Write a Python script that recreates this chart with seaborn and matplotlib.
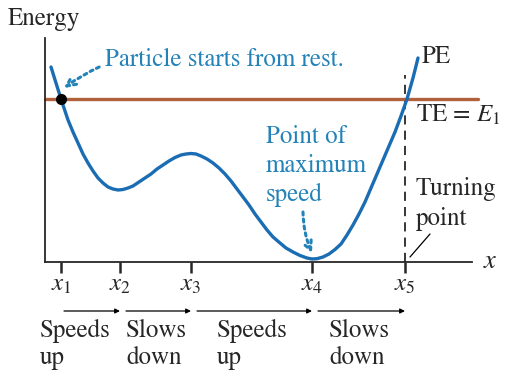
import numpy as np
import pandas as pd
import matplotlib.pyplot as plt
import seaborn as sns

sns.set_style("ticks")
plt.rcParams["font.family"] = ["STIXGeneral", "Liberation Serif", "DejaVu Serif"]
plt.rcParams["mathtext.fontset"] = "stix"
serif = ["STIXGeneral", "Liberation Serif", "DejaVu Serif"]

# potential energy curve (x along axis, energy up)
pe_x = [6, 11, 16, 20, 23, 28, 33, 38, 43, 48, 53, 58, 63, 68, 73, 78, 83, 88, 94, 100,
        106, 112, 118, 124, 130, 136, 141, 146, 151, 156, 162, 168, 174, 180, 186, 192,
        198, 204, 210, 216, 222, 228, 235, 241, 248, 255, 262, 267, 272, 278, 284, 290,
        296, 302, 308, 314, 320, 326, 332, 338, 344, 350, 356, 362, 368, 373]
pe_y = [195, 179, 163, 151, 142, 130, 119, 108, 99, 91, 84, 79, 75, 73, 72, 72.5, 74, 76, 80, 84,
        88, 93, 97, 101, 104.5, 107, 108, 108.5, 108, 106, 103, 99, 94, 88, 81, 73,
        65, 57, 48, 40, 32, 25, 19, 14, 10, 6.5, 4, 3, 3.3, 5, 8, 12.5,
        18, 27, 37, 48, 60, 74, 88, 102, 116, 130, 146, 163, 184, 204]
te_level = 163
tick_pos = [16, 75, 146, 267, 360]
tick_labels = ["$x_1$", "$x_2$", "$x_3$", "$x_4$", "$x_5$"]
seg_labels = ["Speeds\nup", "Slows\ndown", "Speeds\nup", "Slows\ndown"]
seg_text_x = [-5, 81, 172, 284]

blue_line = "#1b6db3"
blue_text = "#2382b8"
brown = "#b0603a"

df = pd.DataFrame({"x": pe_x, "E": pe_y})

fig = plt.figure(figsize=(5.12, 3.74), dpi=100)
ax = fig.add_axes([45 / 512, 112 / 374, 427 / 512, 224 / 374])

# total energy line and PE curve
ax.plot([0, 433], [te_level, te_level], color=brown, lw=2.4, clip_on=False, zorder=2)
sns.lineplot(data=df, x="x", y="E", ax=ax, color=blue_line, lw=2.4, sort=False,
             clip_on=False, zorder=3)
ax.plot([tick_pos[0]], [te_level], "o", color="black", ms=7, zorder=4, clip_on=False)
ax.plot([tick_pos[4], tick_pos[4]], [0, 187], color="black", lw=1.1, ls=(0, (6, 4)), zorder=1)

ax.set_xlim(0, 427)
ax.set_ylim(0, 224)
ax.set_xlabel("")
ax.set_ylabel("")
ax.set_yticks([])
ax.set_xticks(tick_pos)
ax.set_xticklabels(tick_labels, fontsize=18)
ax.tick_params(axis="x", length=8, width=1.8, pad=0, direction="out")
for s in ["top", "right"]:
    ax.spines[s].set_visible(False)
for s in ["left", "bottom"]:
    ax.spines[s].set_linewidth(1.3)

# labels
fig.text(8 / 512, 1 - 19 / 374, "Energy", fontsize=18, va="center", ha="left", family=serif)
ax.text(438, 0, "$x$", fontsize=19, va="center", ha="left")
ax.text(377, 205, "PE", fontsize=18, va="center", ha="left", family=serif)
ax.text(371, 146, "TE = $E_1$", fontsize=18, va="center", ha="left", family=serif)
ax.text(371, 58, "Turning\npoint", fontsize=18, va="center", ha="left", linespacing=1.3,
        family=serif)
ax.plot([385, 365], [28, 5], color="black", lw=0.9)

ax.annotate("Particle starts from rest.", xy=(19, 174), xytext=(60, 202),
            fontsize=18, color=blue_text, va="center", ha="left", family=serif,
            arrowprops=dict(arrowstyle="->", color=blue_text, lw=2.2, ls=(0, (1, 1.3)),
                            connectionstyle="arc3,rad=0.25", shrinkA=2, shrinkB=0,
                            mutation_scale=16))
ax.text(221, 96, "Point of\nmaximum\nspeed", fontsize=18, color=blue_text,
        va="center", ha="left", linespacing=1.3, family=serif)
ax.annotate("", xy=(267, 9), xytext=(258, 50),
            arrowprops=dict(arrowstyle="->", color=blue_text, lw=2.2, ls=(0, (1, 1.3)),
                            connectionstyle="arc3,rad=0.1", shrinkA=0, shrinkB=0,
                            mutation_scale=16))

# motion arrows below the axis
for i in range(4):
    ax.annotate("", xy=(tick_pos[i + 1], -49), xytext=(tick_pos[i] + 3 if i == 0 else tick_pos[i] + 6, -49),
                annotation_clip=False,
                arrowprops=dict(arrowstyle="-|>", color="black", lw=0.9,
                                shrinkA=0, shrinkB=0, mutation_scale=7))
    ax.text(seg_text_x[i], -57, seg_labels[i], fontsize=18, va="top", ha="left",
            linespacing=1.15, family=serif)

fig.savefig("out.png", dpi=100)
